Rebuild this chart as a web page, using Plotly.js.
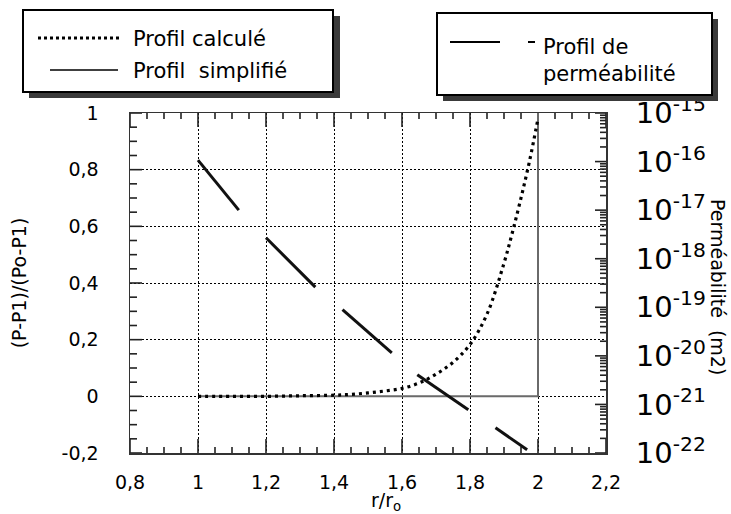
<!DOCTYPE html>
<html>
<head>
<meta charset="utf-8">
<script src="https://cdn.plot.ly/plotly-3.0.1.min.js"></script>
<style>html,body{margin:0;padding:0;background:#fff;}#chart{width:731px;height:514px;}</style>
</head>
<body>
<div id="chart"></div>
<script>
// ---- data ----
const calcX = [1.0, 1.1, 1.2, 1.3, 1.4, 1.45, 1.5, 1.55, 1.6, 1.65, 1.7, 1.75, 1.8, 1.85, 1.9, 1.925, 1.95, 1.975, 2.0];
const calcY = [0, 0, 0, 0.002, 0.004, 0.007, 0.012, 0.019, 0.028, 0.047, 0.078, 0.12, 0.183, 0.29, 0.47, 0.58, 0.70, 0.83, 0.98];

const simpX = [1.0, 2.0, 2.0];
const simpY = [0, 0, 1];

// permeability segments (start / end), right log axis
const segX0 = [1.0, 1.2, 1.425, 1.645, 1.875];
const segX1 = [1.12, 1.345, 1.57, 1.795, 1.968];
const segK0 = [1.07e-16, 2.7e-18, 8.9e-20, 4.1e-21, 3.3e-22];
const segK1 = [1.0e-17, 2.6e-19, 1.15e-20, 7.8e-22, 1.17e-22];

const xTickVals = [0.8, 1, 1.2, 1.4, 1.6, 1.8, 2, 2.2];
const xTickText = ['0,8', '1', '1,2', '1,4', '1,6', '1,8', '2', '2,2'];
const yTickVals = [-0.2, 0, 0.2, 0.4, 0.6, 0.8, 1];
const yTickText = ['-0,2', '0', '0,2', '0,4', '0,6', '0,8', '1'];
const kExps = [-22, -21, -20, -19, -18, -17, -16, -15];

// ---- build traces ----
const permX = [], permY = [];
for (let i = 0; i < segX0.length; i++) {
  permX.push(segX0[i], segX1[i], null);
  permY.push(segK0[i], segK1[i], null);
}
const kTickVals = kExps.map(e => Math.pow(10, e));
const kTickText = kExps.map(e => '10<sup>' + e + '</sup>');

const FONT = 'DejaVu Sans';
const L = 130, T = 113, PW = 476, PH = 340;
const X0 = 0.8, X1 = 2.2, Y0 = -0.2, Y1 = 1;
const ux = (X1 - X0) / PW, uy = (Y1 - Y0) / PH;   // data units per pixel

// inside tick marks, drawn as thin line traces on the axes' scales
const tkX = [], tkY = [], tkRX = [], tkRY = [];
for (let i = 0; i <= 28; i++) {
  const v = X0 + i * 0.05, len = (i % 4 === 0) ? 14 : 6;
  tkX.push(v, v, null, v, v, null);
  tkY.push(Y0, Y0 + len * uy, null, Y1, Y1 - len * uy, null);
}
for (let i = 0; i <= 24; i++) {
  const v = Y0 + i * 0.05, len = (i % 4 === 0) ? 12 : 7;
  tkX.push(X0, X0 + len * ux, null);
  tkY.push(v, v, null);
}
for (let e = -22; e <= -15; e++) {
  for (let m = 1; m <= (e < -15 ? 9 : 1); m++) {
    const len = m === 1 ? 11 : 6;
    tkRX.push(X1, X1 - len * ux, null);
    tkRY.push(m * Math.pow(10, e), m * Math.pow(10, e), null);
  }
}

const traces = [
  {x: tkX, y: tkY, type: 'scatter', mode: 'lines', line: {color: '#222', width: 1.6},
   hoverinfo: 'skip', showlegend: false, cliponaxis: false},
  {x: tkRX, y: tkRY, type: 'scatter', mode: 'lines', line: {color: '#222', width: 1.6}, yaxis: 'y2',
   hoverinfo: 'skip', showlegend: false, cliponaxis: false},
  {x: simpX, y: simpY, type: 'scatter', mode: 'lines', name: 'Profil simplifié',
   line: {color: '#6a6a6a', width: 2}},
  {x: calcX, y: calcY, type: 'scatter', mode: 'lines', name: 'Profil calculé',
   line: {color: '#000', width: 3.2, dash: '3px,4px', shape: 'spline'}},
  {x: permX, y: permY, type: 'scatter', mode: 'lines', name: 'Profil de perméabilité',
   line: {color: '#111', width: 3}, yaxis: 'y2'}
];

// ---- pixel helpers for legend decorations ----
const px = p => (p - L) / PW;
const py = p => (T + PH - p) / PH;
function rect(x0, y0, x1, y1, fill, lw) {
  return {type: 'rect', xref: 'paper', yref: 'paper', x0: px(x0), x1: px(x1), y0: py(y1), y1: py(y0),
          fillcolor: fill, line: {color: '#000', width: lw}};
}
function seg(x0, y0, x1, y1, color, w, dash) {
  return {type: 'line', xref: 'paper', yref: 'paper', x0: px(x0), x1: px(x1), y0: py(y0), y1: py(y1),
          line: {color: color, width: w, dash: dash || 'solid'}};
}
function label(text, x, y, opts) {
  return Object.assign({text: text, xref: 'paper', yref: 'paper', x: px(x), y: py(y), showarrow: false,
          xanchor: 'left', yanchor: 'middle', align: 'left', font: {family: FONT, size: 21, color: '#000'}}, opts || {});
}

const shapes = [
  rect(29, 16, 340, 98, '#3a3a3a', 0),
  rect(23, 10, 333, 92, '#fff', 2),
  seg(38, 38, 122, 38, '#000', 3, '3px,3px'),
  seg(50, 70, 118, 70, '#000', 1.5),
  rect(443, 19, 718, 101, '#3a3a3a', 0),
  rect(437, 13, 712, 95, '#fff', 2),
  seg(450, 42, 500, 42, '#000', 2),
  seg(528, 42, 535, 42, '#000', 2)
];

const annotations = [
  label('Profil calculé', 131, 39),
  label('Profil&nbsp; simplifié', 131, 71),
  label('Profil de<br>perméabilité', 541, 60),
  label('Perméabilité  (m2)', 718, 287, {textangle: 90, xanchor: 'center', font: {family: FONT, size: 19, color: '#000'}})
];

const layout = {
  width: 731, height: 514,
  margin: {l: L, r: 731 - L - PW, t: T, b: 514 - T - PH},
  plot_bgcolor: '#fff',
  showlegend: false,
  xaxis: {
    range: [X0, X1], tickmode: 'array', tickvals: xTickVals, ticktext: xTickText,
    ticks: '', showline: true, linecolor: '#333', linewidth: 1.5, mirror: true,
    showgrid: true, gridcolor: '#000', griddash: '2px,2px', zeroline: false,
    ticklabelstandoff: 12,
    tickfont: {family: FONT, size: 19, color: '#000'},
    title: {text: '&nbsp;&nbsp;&nbsp;&nbsp;&nbsp;&nbsp;r/r<sub>o</sub>', font: {family: FONT, size: 19, color: '#000'}, standoff: 0}
  },
  yaxis: {
    range: [Y0, Y1], tickmode: 'array', tickvals: yTickVals, ticktext: yTickText,
    ticks: '', showline: true, linecolor: '#333', linewidth: 1.5,
    showgrid: true, gridcolor: '#000', griddash: '2px,2px', zeroline: false,
    ticklabelstandoff: 26,
    tickfont: {family: FONT, size: 19, color: '#000'},
    title: {text: '(P-P1)/(Po-P1)', font: {family: FONT, size: 19, color: '#000'}, standoff: 30}
  },
  yaxis2: {
    type: 'log', range: [-22, -15], overlaying: 'y', side: 'right',
    tickmode: 'array', tickvals: kTickVals, ticktext: kTickText,
    ticks: '', showline: true, linecolor: '#333', linewidth: 2,
    showgrid: false, zeroline: false, ticklabelstandoff: 22,
    tickfont: {family: FONT, size: 29, color: '#000'}
  },
  shapes: shapes,
  annotations: annotations
};

Plotly.newPlot('chart', traces, layout, {staticPlot: true});
</script>
</body>
</html>
